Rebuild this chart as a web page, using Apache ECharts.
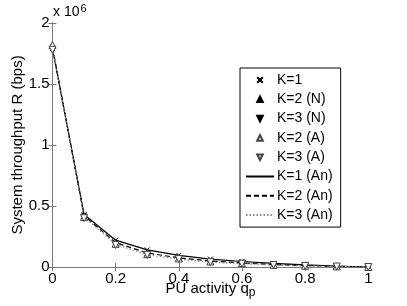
<!DOCTYPE html>
<html><head><meta charset="utf-8">
<script src="https://cdn.jsdelivr.net/npm/echarts@6/dist/echarts.min.js"></script>
<style>html,body{margin:0;padding:0;background:#fff}#c{width:407px;height:306px}</style>
</head><body><div id="c"></div>
<script>
const qp = [0, 0.1, 0.2, 0.3, 0.4, 0.5, 0.6, 0.7, 0.8, 0.9, 1];
const xTicks = [0, 0.2, 0.4, 0.6, 0.8, 1];
const yTicks = [0, 0.5, 1, 1.5, 2];
// throughput in units of 1e6 bps
const k1An = [1.79, 0.43, 0.22, 0.14, 0.095, 0.065, 0.045, 0.03, 0.018, 0.008, 0];
const k2An = [1.80, 0.42, 0.20, 0.115, 0.075, 0.05, 0.033, 0.02, 0.012, 0.005, 0];
const k3An = [1.79, 0.41, 0.185, 0.10, 0.065, 0.04, 0.027, 0.016, 0.009, 0.004, 0];
const k1Sim = [1.79, 0.43, 0.22, 0.14, 0.095, 0.065, 0.045, 0.03, 0.018, 0.008, 0];
const k2N = [1.82, 0.41, 0.19, 0.105, 0.07, 0.045, 0.03, 0.018, 0.01, 0.005, 0];
const k3N = [1.78, 0.41, 0.18, 0.10, 0.065, 0.04, 0.027, 0.016, 0.009, 0.004, 0];
const k2A = [1.82, 0.41, 0.19, 0.105, 0.07, 0.045, 0.03, 0.018, 0.01, 0.005, 0];
const k3A = [1.78, 0.40, 0.18, 0.10, 0.065, 0.04, 0.027, 0.016, 0.009, 0.004, 0];

const pair = a => a.map((v, i) => [qp[i], v]);
const font = 'Liberation Sans, Arial, sans-serif';
const axCol = '#7a7a7a';

const chart = echarts.init(document.getElementById('c'));
const baseX = {
  type: 'value', min: 0, max: 1, interval: 0.2,
  axisLine: {show: true, lineStyle: {color: axCol, width: 1}},
  axisTick: {show: true, inside: true, length: 4, lineStyle: {color: axCol}},
  splitLine: {show: false}
};
const baseY = {
  type: 'value', min: 0, max: 2, interval: 0.5,
  axisLine: {show: true, lineStyle: {color: axCol, width: 1}},
  axisTick: {show: true, inside: true, length: 4, lineStyle: {color: axCol}},
  splitLine: {show: false}
};
const lineSeries = (name, data, type, color) => ({
  name, type: 'line', data: pair(data), symbol: 'none', z: 2,
  lineStyle: {color, width: 1.2, type}, itemStyle: {color}
});
const markSeries = (name, data, symbol, size, fill, stroke, rot) => ({
  name, type: 'line', data: pair(data), symbol, symbolSize: size, symbolRotate: rot || 0,
  showSymbol: true, showAllSymbol: true, z: 3,
  lineStyle: {opacity: 0},
  itemStyle: {color: fill, borderColor: stroke, borderWidth: 1, opacity: 1}
});
chart.setOption({
  animation: false,
  grid: {left: 52.5, right: 38.7, top: 23, bottom: 39, outerBoundsMode: 'none', containLabel: false},
  xAxis: [
    Object.assign({}, baseX, {
      position: 'bottom',
      axisLabel: {color: '#000', fontSize: 15, fontFamily: font, margin: 4,
        formatter: v => xTicks.includes(+v.toFixed(1)) ? String(+v.toFixed(1)) : ''},
      name: 'PU activity q{s|p}', nameLocation: 'middle', nameGap: 12, nameMoveOverlap: false,
      nameTextStyle: {color: '#000', fontSize: 15, fontFamily: font,
        rich: {s: {fontSize: 12, fontFamily: font, color: '#000', padding: [8, 0, 0, 0]}}}
    }),
    Object.assign({}, baseX, {position: 'top', axisLabel: {show: false}})
  ],
  yAxis: [
    Object.assign({}, baseY, {
      position: 'left',
      axisLabel: {color: '#000', fontSize: 15, fontFamily: font, margin: 3,
        formatter: v => yTicks.includes(v) ? String(v) : ''},
      name: 'System throughput R (bps)', nameLocation: 'middle', nameGap: 27, nameMoveOverlap: false,
      nameTextStyle: {color: '#000', fontSize: 15, fontFamily: font}
    }),
    Object.assign({}, baseY, {position: 'right', axisLabel: {show: false}})
  ],
  legend: {
    orient: 'vertical', left: 240, top: 68,
    padding: [5, 8, 5, 5], itemGap: 5.3, itemWidth: 28, itemHeight: 7,
    borderColor: '#000', borderWidth: 1, backgroundColor: '#fff',
    textStyle: {color: '#000', fontSize: 14, fontFamily: font, lineHeight: 14, padding: [0,0,0,-2]},
    symbolRotate: 'inherit',
    data: [
      {name: 'K=1'},
      {name: 'K=2 (N)'},
      {name: 'K=3 (N)'},
      {name: 'K=2 (A)'},
      {name: 'K=3 (A)'},
      {name: 'K=1 (An)', itemStyle: {color: 'rgba(0,0,0,0)', borderWidth: 0}},
      {name: 'K=2 (An)', itemStyle: {color: 'rgba(0,0,0,0)', borderWidth: 0}},
      {name: 'K=3 (An)', itemStyle: {color: 'rgba(0,0,0,0)', borderWidth: 0}}
    ]
  },
  graphic: [{
    type: 'text', left: 53, top: 3,
    style: {text: 'x 10{s|6}', fill: '#000', font: '14px ' + font,
      rich: {s: {fontSize: 11, fontFamily: font, fill: '#000', padding: [0,0,8,1]}}}
  }],
  series: [
    lineSeries('K=1 (An)', k1An, 'solid', '#000'),
    lineSeries('K=2 (An)', k2An, [5, 3], '#000'),
    lineSeries('K=3 (An)', k3An, [1.5, 2], '#888'),
    markSeries('K=1', k1Sim, 'path://M0,0L10,10M10,0L0,10', 5, 'rgba(0,0,0,0)', '#000'),
    markSeries('K=2 (N)', k2N, 'triangle', 6, '#000', '#000'),
    markSeries('K=3 (N)', k3N, 'triangle', 6, '#000', '#000', 180),
    markSeries('K=2 (A)', k2A, 'triangle', 7, '#fff', '#444'),
    markSeries('K=3 (A)', k3A, 'triangle', 7, '#fff', '#444', 180)
  ]
});
</script>
</body></html>
